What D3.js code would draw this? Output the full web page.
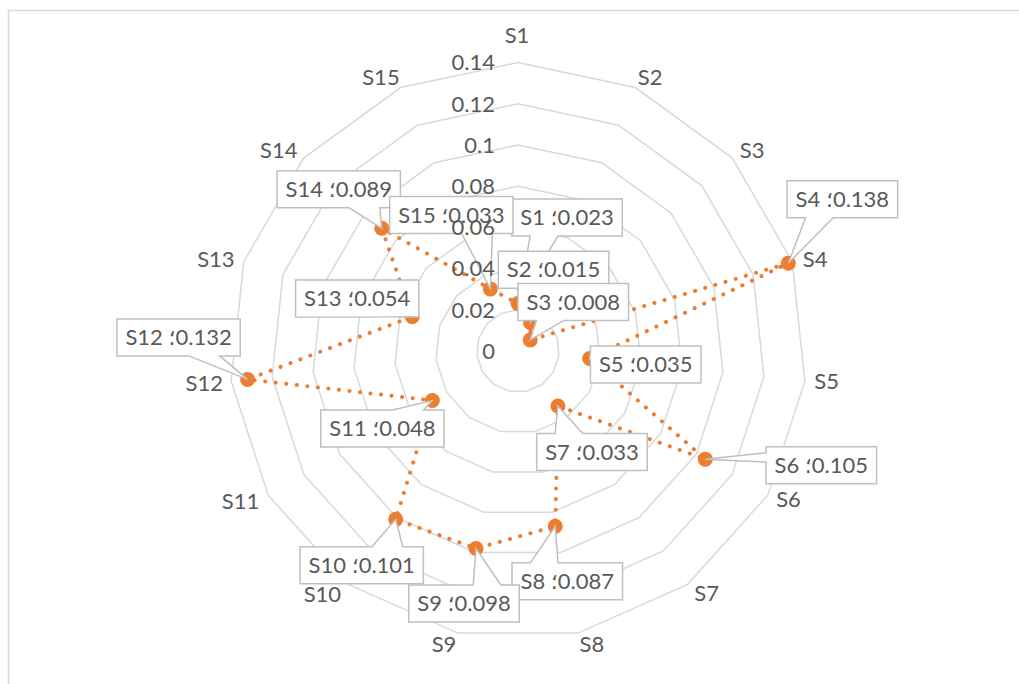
<!DOCTYPE html>
<html>
<head>
<meta charset="utf-8">
<script src="https://cdn.jsdelivr.net/npm/d3@7"></script>
<style>
    body { margin: 0; background: #fff; }
    text { font-family: Lato, "DejaVu Sans", sans-serif; fill: #595959; }
    .lbl { direction: ltr; unicode-bidi: bidi-override; }
</style>
</head>
<body>
<svg id="chart" width="1019" height="684"></svg>
<script>
const categories = ['S1', 'S2', 'S3', 'S4', 'S5', 'S6', 'S7', 'S8', 'S9', 'S10', 'S11', 'S12', 'S13', 'S14', 'S15']
const values = [0.023, 0.015, 0.008, 0.138, 0.035, 0.105, 0.033, 0.087, 0.098, 0.101, 0.048, 0.132, 0.054, 0.089, 0.033]
const ticks = [0, 0.02, 0.04, 0.06, 0.08, 0.1, 0.12, 0.14]
const tickLabels = ['0', '0.02', '0.04', '0.06', '0.08', '0.1', '0.12', '0.14']

// where each data label box sits, relative to its point (hand placed, like in the original)
const calloutOffsets = [
    [49, -86], [23, -53], [43, -38], [54, -64], [56, 6], [116, 6], [34, 46], [12, 55],
    [-12, 55], [-34, 46], [-50, 28], [-69, -42], [-55, -18], [-43, -39], [-39, -74]
]
// small nudges of the category labels off the plain radial spot
const catNudge = [
    [-1, -3], [5, 12], [2, 8], [0, 5], [-2, -2], [0, -8], [5, -10], [9, -12],
    [-9, -12], [-12, -9], [-7, -6], [-3, 0], [-5, 5], [-7, 8], [-10, 12]
]

let width = 1019
let height = 684
let cx = 518, cy = 351, R = 288.4
let orange = '#ED7D31'

let svg = d3.select('#chart')

// chart area frame
svg.append('rect')
    .attr('x', 8.5).attr('y', 10.5)
    .attr('width', width).attr('height', height)
    .attr('fill', 'none')
    .attr('stroke', '#d9d9d9')
    .attr('stroke-width', 1.5)

let rScale = d3.scaleLinear().domain([0, 0.14]).range([0, R])
let aScale = d3.scaleLinear().domain([0, categories.length]).range([0, 2 * Math.PI])

function pos(i, v) {
    let a = aScale(i), r = rScale(v)
    return [cx + r * Math.sin(a), cy - r * Math.cos(a)]
}

let plot = svg.append('g')

// rings
let ring = d3.line().curve(d3.curveLinearClosed)
plot.selectAll('.ring')
    .data(ticks.slice(1))
    .join('path')
    .attr('class', 'ring')
    .attr('d', t => ring(categories.map((c, i) => pos(i, t))))
    .attr('fill', 'none')
    .attr('stroke', '#d9d9d9')
    .attr('stroke-width', 1.5)

// category labels
plot.selectAll('.cat')
    .data(categories)
    .join('text')
    .attr('class', 'cat')
    .attr('x', (c, i) => cx + (R + 24) * Math.sin(aScale(i)) + catNudge[i][0])
    .attr('y', (c, i) => cy - (R + 24) * Math.cos(aScale(i)) + catNudge[i][1])
    .attr('dy', '0.35em')
    .attr('text-anchor', 'middle')
    .style('font-size', '22px')
    .text(c => c)

// series
let pts = values.map((v, i) => pos(i, v))

plot.append('path')
    .attr('d', ring(pts))
    .attr('fill', 'none')
    .attr('stroke', orange)
    .attr('stroke-width', 4)
    .attr('stroke-linecap', 'round')
    .attr('stroke-dasharray', '0.1 10.5')

plot.selectAll('.dot')
    .data(pts)
    .join('circle')
    .attr('class', 'dot')
    .attr('cx', d => d[0])
    .attr('cy', d => d[1])
    .attr('r', 7.5)
    .attr('fill', orange)

// callout box with a wedge pointing at the point (same rule as Office's wedgeRectCallout)
function calloutPath(bx, by, w, h, px, py) {
    let hc = bx + w / 2, vc = by + h / 2
    let dxPos = px - hc, dyPos = py - vc
    let dz = Math.abs(dyPos) - Math.abs(dxPos * h / w)
    let x1 = bx + w * (dxPos > 0 ? 7 : 2) / 12, x2 = bx + w * (dxPos > 0 ? 10 : 5) / 12
    let y1 = by + h * (dyPos > 0 ? 7 : 2) / 12, y2 = by + h * (dyPos > 0 ? 10 : 5) / 12
    let r = bx + w, b = by + h
    let p = d3.path()
    p.moveTo(bx, by)
    if (dz > 0 && dyPos < 0) { p.lineTo(x1, by); p.lineTo(px, py); p.lineTo(x2, by) }
    p.lineTo(r, by)
    if (dz <= 0 && dxPos > 0) { p.lineTo(r, y1); p.lineTo(px, py); p.lineTo(r, y2) }
    p.lineTo(r, b)
    if (dz > 0 && dyPos > 0) { p.lineTo(x2, b); p.lineTo(px, py); p.lineTo(x1, b) }
    p.lineTo(bx, b)
    if (dz <= 0 && dxPos < 0) { p.lineTo(bx, y2); p.lineTo(px, py); p.lineTo(bx, y1) }
    p.closePath()
    return p.toString()
}

let labels = svg.append('g')
values.forEach((v, i) => {
    let [px, py] = pts[i]
    let lx = px + calloutOffsets[i][0]
    let ly = py + calloutOffsets[i][1]
    let g = labels.append('g')
    let box = g.append('path')
    let txt = g.append('text')
        .attr('class', 'lbl')
        .attr('x', lx)
        .attr('y', ly)
        .attr('dy', '0.35em')
        .attr('text-anchor', 'middle')
        .style('font-size', '22px')
        .text(`${categories[i]} ؛${v}`)
    let w = txt.node().getComputedTextLength() + 17
    let h = 37
    box.attr('d', calloutPath(lx - w / 2, ly - h / 2, w, h, px, py))
        .attr('fill', '#fff')
        .attr('stroke', '#bfbfbf')
        .attr('stroke-width', 1.5)
})

// value axis labels, drawn last as in the original (they sit over the boxes)
svg.append('g').selectAll('.tick')
    .data(ticks)
    .join('text')
    .attr('class', 'tick')
    .attr('x', cx - 23)
    .attr('y', t => cy - rScale(t))
    .attr('dy', '0.35em')
    .attr('text-anchor', 'end')
    .style('font-size', '22px')
    .text((t, i) => tickLabels[i])
</script>
</body>
</html>
